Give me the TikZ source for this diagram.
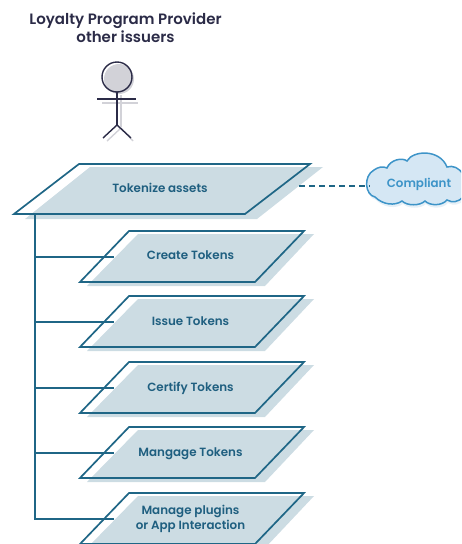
\documentclass[tikz,border=0pt]{standalone}
\usepackage{fontspec}
\setmainfont{Poppins}[BoldFont={Poppins SemiBold}]

\definecolor{lineblue}{HTML}{1F6686}
\definecolor{fillblue}{HTML}{CCDCE3}
\definecolor{textblue}{HTML}{1F5F80}
\definecolor{cloudline}{HTML}{3D94C8}
\definecolor{cloudfill}{HTML}{D5E7F4}
\definecolor{cloudshadow}{HTML}{E6F0F7}
\definecolor{inkdark}{HTML}{2B2B47}
\definecolor{inkshadow}{HTML}{D2D2D8}

\tikzset{
	outline/.style={draw=lineblue, line width=1.7pt, miter limit=8},
	backfill/.style={fill=fillblue},
	boxlabel/.style={text=textblue, align=center, text height=8.5pt, text depth=2.5pt,
			font=\fontsize{11.9}{15}\selectfont\bfseries},
	titlelabel/.style={text=inkdark, align=center, font=\fontsize{15}{18}\selectfont\bfseries},
	stickman/.style={draw=inkdark, line width=1.4pt},
	stickshadow/.style={draw=inkshadow, line width=1.4pt},
	branch/.style={draw=lineblue, line width=1.1pt},
	cloudpath/.pic={
			\path[pic actions] (374, 170) .. controls (378, 167) and (383, 166) .. (387, 168)
				.. controls (390, 160) and (402, 157) .. (407, 161)
				.. controls (413, 150) and (440, 149) .. (447, 167)
				.. controls (453, 165) and (459, 168) .. (463, 174)
				.. controls (475, 176) and (475, 196) .. (463, 197)
				.. controls (459, 202) and (452, 203) .. (447, 200)
				.. controls (442, 206) and (430, 206) .. (425, 201)
				.. controls (420, 206) and (407, 206) .. (402, 201)
				.. controls (395, 206) and (383, 205) .. (375, 197)
				.. controls (365, 195) and (363, 176) .. (374, 170) -- cycle;
		},
}

\begin{document}
\begin{tikzpicture}[x=1pt, y=-1pt]
	\useasboundingbox (0, 0) rectangle (461, 544);
	\clip (0, 0) rectangle (461, 544);

	\node[titlelabel] (title) at (125.5, 28) {Loyalty Program Provider\\other issuers};

	% actor
	\fill[inkshadow] (119, 79) circle (15);
	\draw[stickshadow] (102, 103) -- (138, 103);
	\draw[stickshadow] (121, 95) -- (121, 127);
	\draw[stickshadow] (107, 141) -- (121, 128) -- (133, 141);
	\draw[stickman] (117, 77) circle (15);
	\draw[stickman] (97, 99) -- (136, 99);
	\draw[stickman] (117, 92) -- (117, 125);
	\draw[stickman] (103, 138) -- (117, 125) -- (131, 138);

	% main box
	\fill[backfill] (25, 219) -- (90, 167) -- (323, 167) -- (257, 219) -- cycle;
	\draw[outline] (14, 214) -- (79, 164) -- (310, 164) -- (245, 214) -- cycle;
	\node[boxlabel] (tokenize) at (160, 189.5) {Tokenize assets};

	% small boxes
	\foreach \i/\y/\d/\txt in {1/231/25.5/Create Tokens, 2/296/26/Issue Tokens, 3/362/26/Certify Tokens,
			4/427/26/Mangage Tokens, 5/493/33.5/{Manage plugins\\or App Interaction}}{
			\fill[backfill] (87, \y + 55) -- (138, \y + 3) -- (314, \y + 3) -- (265, \y + 55) -- cycle;
			\draw[outline] (80, \y + 51) -- (129, \y) -- (304, \y) -- (255, \y + 51) -- cycle;
			\node[boxlabel] (box\i) at (190.5, \y + \d) {\txt};
			\coordinate (branch\i) at (114, \y + 26);
		}

	% tree on the left
	\coordinate (trunk) at (35, 215);
	\draw[branch] (trunk) |- (branch5);
	\foreach \i in {1, 2, 3, 4}{
			\draw[branch] (trunk |- branch\i) -- (branch\i);
		}

	% cloud
	\pic[fill=cloudshadow, shift={(1, 3)}] {cloudpath};
	\pic[fill=cloudfill, draw=cloudline, line width=1.5pt] {cloudpath};
	\node[text=cloudline, font=\fontsize{11.9}{15}\selectfont\bfseries] (cloudlabel) at (419, 184) {Compliant};

	\coordinate (dashstart) at (299, 186);
	\coordinate (dashend) at (370, 186);
	\draw[draw=lineblue, line width=1.2pt, dash pattern=on 6pt off 4pt] (dashstart) -- (dashend);
\end{tikzpicture}
\end{document}
